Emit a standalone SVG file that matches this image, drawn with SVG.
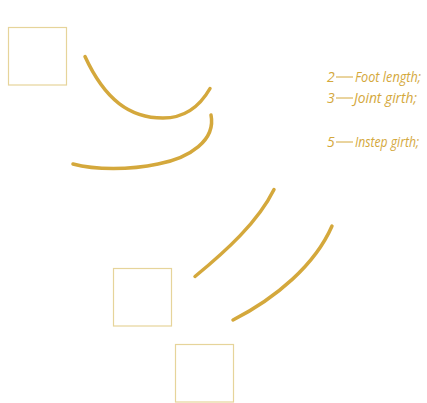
<svg xmlns="http://www.w3.org/2000/svg" width="427" height="403" viewBox="0 0 427 403">
<style>
.box{fill:none;stroke:#E6D49A;stroke-width:1.2}
.curve{fill:none;stroke:#D4A83C;stroke-width:3.5;stroke-linecap:round}
.lbl{font-family:"Open Sans","Liberation Sans",sans-serif;font-style:italic;font-size:14px;fill:#D4A83C}
</style>
<rect width="427" height="403" fill="#fff"/>
<g id="node1"><rect class="box" x="8.5" y="27.5" width="58" height="57.5"/></g>
<g id="node2"><rect class="box" x="113.5" y="268.5" width="58" height="57.5"/></g>
<g id="node3"><rect class="box" x="175.5" y="344.5" width="58" height="57.5"/></g>
<g id="connectors">
<path class="curve" d="M85,56.5 C105,100 130,118 163,118 C185,118 200,106 210,88.5"/>
<path class="curve" d="M211,115 C216,140 190,158 158,164 C130,170 95,170 73,164"/>
<path class="curve" d="M274,189.5 C258,222 226,251 195,276.5"/>
<path class="curve" d="M332,226 C315,265 276,298 233,320"/>
</g>
<g id="legend" class="lbl">
<text x="327" y="82">2</text>
<path d="M336,77 H353" stroke="#D4A83C" stroke-width="1"/>
<text x="355" y="82" textLength="66" lengthAdjust="spacingAndGlyphs">Foot length;</text>
<text x="327" y="103">3</text>
<path d="M336,98 H353" stroke="#D4A83C" stroke-width="1"/>
<text x="354" y="103" textLength="63" lengthAdjust="spacingAndGlyphs">Joint girth;</text>
<text x="327" y="147">5</text>
<path d="M336,142 H353" stroke="#D4A83C" stroke-width="1"/>
<text x="355" y="147" textLength="64" lengthAdjust="spacingAndGlyphs">Instep girth;</text>
</g>
</svg>
